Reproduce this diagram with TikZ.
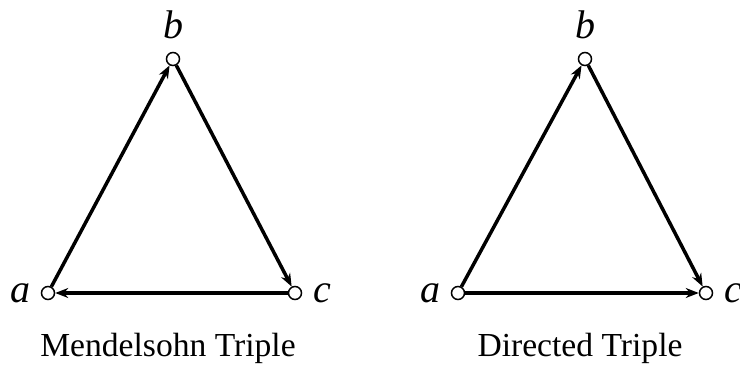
\documentclass[tikz,border=0pt]{standalone}
\usepackage{fontspec}
\setmainfont{Liberation Serif}
\usetikzlibrary{arrows.meta,positioning}

\begin{document}
\begin{tikzpicture}[x=1pt,y=-1pt,line width=3.5pt,
  vtx/.style={circle,draw,fill=white,line width=1.5pt,inner sep=0pt,minimum size=13pt},
  lbl/.style={inner sep=0pt,font=\fontsize{40}{48}\selectfont\itshape},
  caption/.style={inner sep=0pt,font=\fontsize{33.6}{40}\selectfont},
  arc/.style={-{Stealth[length=13pt,width=10pt]}}]
\path[use as bounding box] (0,0) rectangle (740,366);
% Mendelsohn triple
\node[vtx] (ma) at (48,293) {};
\node[vtx] (mb) at (173,59) {};
\node[vtx] (mc) at (295,293) {};
\node[lbl,left=9pt of ma] (mla) {a};
\node[lbl,above=11pt of mb] (mlb) {b};
\node[lbl,right=9pt of mc] (mlc) {c};
\draw[arc] (ma) -- (mb);
\draw[arc] (mb) -- (mc);
\draw[arc] (mc) -- (ma);
\node[caption] (mcap) at (168,348) {Mendelsohn Triple};
% directed triple
\node[vtx] (da) at (458,293) {};
\node[vtx] (db) at (585,59) {};
\node[vtx] (dc) at (706,293) {};
\node[lbl,left=9pt of da] (dla) {a};
\node[lbl,above=11pt of db] (dlb) {b};
\node[lbl,right=9pt of dc] (dlc) {c};
\draw[arc] (da) -- (db);
\draw[arc] (db) -- (dc);
\draw[arc] (da) -- (dc);
\node[caption] (dcap) at (580,348) {Directed Triple};
\end{tikzpicture}
\end{document}
